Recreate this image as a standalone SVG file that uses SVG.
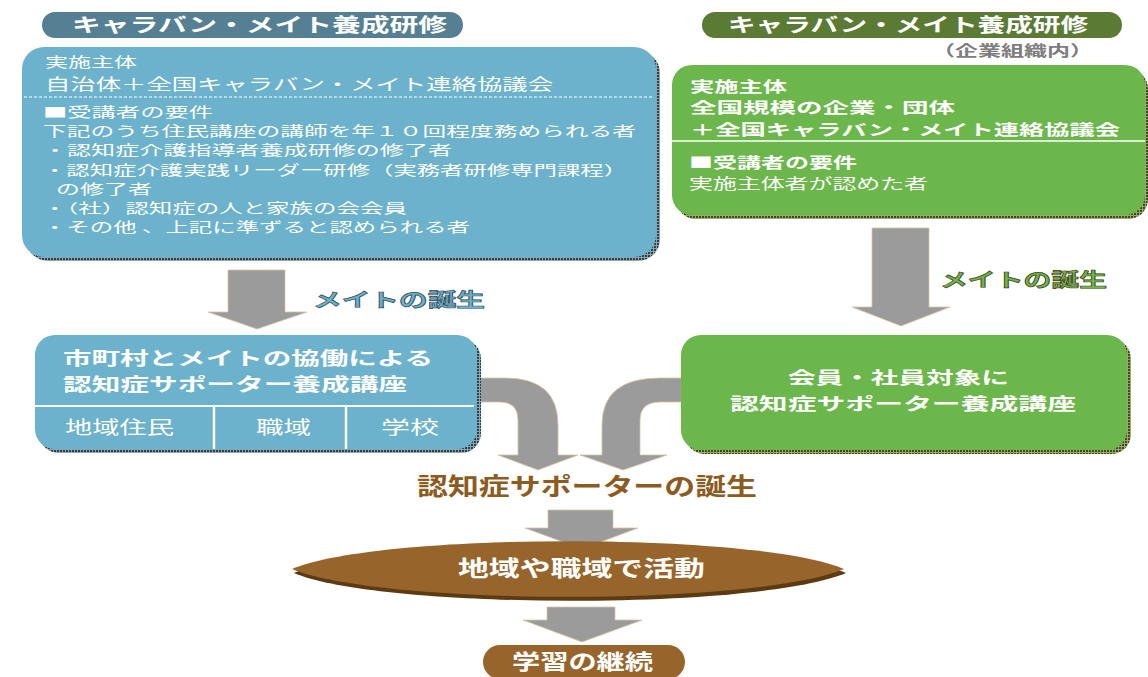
<svg xmlns="http://www.w3.org/2000/svg" width="1148" height="677" viewBox="0 0 1148 677">
<defs>
<style>
text{font-family:"Noto Sans CJK JP","Noto Sans CJK SC",sans-serif;}
.w{fill:#ffffff;}
.b{font-weight:700;}
.arrow{fill:#9b9b9b;stroke:#d6c3a6;stroke-width:0.8;}
.blue{fill:#6cb2cc;}
.green{fill:#6bb74b;}
.brown{fill:#97652b;}
</style>
<pattern id="shB" width="3" height="3" patternUnits="userSpaceOnUse"><rect width="3" height="3" fill="#8aa6b2"/><rect width="2" height="2" fill="#2f3f47"/></pattern>
<pattern id="shG" width="3" height="3" patternUnits="userSpaceOnUse"><rect width="3" height="3" fill="#8fae6a"/><rect width="2" height="2" fill="#4a4220"/></pattern>
</defs>
<rect width="1148" height="677" fill="#ffffff"/>

<g id="connectors">
  <path class="arrow" d="M228 270 H285 V312 H307 L257 329 L208 312 H228 Z"/>
  <path class="arrow" d="M872 228 H929 V307 H950 L901 326 L852 307 H872 Z"/>
  <path class="arrow" d="M470 378 L505 378 Q558 378 558 425 L558 455 L578 455 L538 470 L498 455 L518 455 L518 420 Q518 402 500 402 L470 402 Z"/>
  <path class="arrow" d="M690 378 L660 378 Q602 378 602 425 L602 455 L580 455 L623 470 L667 455 L640 455 L640 420 Q640 402 660 402 L690 402 Z"/>
  <path class="arrow" d="M548 510 H613 V528 H638 L582 549 L525 528 H548 Z"/>
  <path class="arrow" d="M547 607 H615 V620 H642 L582 642 L523 620 H547 Z"/>
  <text x="313" y="307" font-size="19" class="b" fill="#6cb2cc" stroke="#35505c" stroke-width="0.7" textLength="172" lengthAdjust="spacingAndGlyphs">メイトの誕生</text>
  <text x="940" y="287" font-size="19" class="b" fill="#6bb74b" stroke="#4a4220" stroke-width="0.7" textLength="167" lengthAdjust="spacingAndGlyphs">メイトの誕生</text>
</g>

<g id="title-left">
  <rect x="42" y="12" width="421" height="26" rx="13" fill="#557f92"/>
  <text x="72" y="32.2" font-size="19" class="w b" textLength="375" lengthAdjust="spacingAndGlyphs">キャラバン・メイト養成研修</text>
</g>

<g id="title-right">
  <rect x="702" y="12" width="420" height="26" rx="13" fill="#5b7a34"/>
  <text x="728" y="32.2" font-size="19" class="w b" textLength="360" lengthAdjust="spacingAndGlyphs">キャラバン・メイト養成研修</text>
  <text x="932" y="55.7" font-size="15" class="b" fill="#7d7d7d" textLength="161" lengthAdjust="spacingAndGlyphs">（企業組織内）</text>
</g>

<g id="box-left">
  <rect x="26" y="51" width="634" height="210" rx="22" fill="url(#shB)"/>
  <rect x="22" y="47" width="634" height="210" rx="22" class="blue"/>
  <line x1="24" y1="97" x2="654" y2="97" stroke="#ffffff" stroke-width="1.2" stroke-dasharray="3 2"/>
  <g class="w">
    <text x="45" y="66.8" font-size="14" textLength="92" lengthAdjust="spacingAndGlyphs">実施主体</text>
    <text x="45" y="89.6" font-size="16" textLength="508" lengthAdjust="spacingAndGlyphs">自治体＋全国キャラバン・メイト連絡協議会</text>
    <text x="43" y="117" font-size="13.2" textLength="170" lengthAdjust="spacingAndGlyphs">■受講者の要件</text>
    <text x="43" y="136.2" font-size="13.2" textLength="593" lengthAdjust="spacingAndGlyphs">下記のうち住民講座の講師を年１０回程度務められる者</text>
    <text x="43" y="155.4" font-size="13.2" textLength="409" lengthAdjust="spacingAndGlyphs">・認知症介護指導者養成研修の修了者</text>
    <text x="43" y="174.6" font-size="13.2" textLength="584" lengthAdjust="spacingAndGlyphs">・認知症介護実践リーダー研修（実務者研修専門課程）</text>
    <text x="56" y="193.8" font-size="13.2" textLength="96" lengthAdjust="spacingAndGlyphs">の修了者</text>
    <text x="43" y="213" font-size="13.2" textLength="364" lengthAdjust="spacingAndGlyphs">・（社）認知症の人と家族の会会員</text>
    <text x="43" y="232.2" font-size="13.2" textLength="427" lengthAdjust="spacingAndGlyphs">・その他 、上記に準ずると認められる者</text>
  </g>
</g>

<g id="box-right">
  <rect x="676" y="69" width="472" height="150" rx="20" fill="url(#shG)"/>
  <rect x="672" y="65" width="473" height="150" rx="20" class="green"/>
  <line x1="672" y1="141" x2="1145" y2="141" stroke="#ffffff" stroke-width="1.5"/>
  <g class="w">
    <text x="690" y="91.7" font-size="15" class="b" textLength="97" lengthAdjust="spacingAndGlyphs">実施主体</text>
    <text x="690" y="113.4" font-size="15" class="b" textLength="265" lengthAdjust="spacingAndGlyphs">全国規模の企業・団体</text>
    <text x="690" y="135.2" font-size="15" class="b" textLength="430" lengthAdjust="spacingAndGlyphs">＋全国キャラバン・メイト連絡協議会</text>
    <text x="689" y="167.5" font-size="14.5" class="b" textLength="168" lengthAdjust="spacingAndGlyphs">■受講者の要件</text>
    <text x="689" y="188.5" font-size="14.5" textLength="239" lengthAdjust="spacingAndGlyphs">実施主体者が認めた者</text>
  </g>
</g>

<g id="course-left">
  <rect x="39" y="339" width="442" height="114" rx="20" fill="url(#shB)"/>
  <rect x="35" y="335" width="442" height="114" rx="20" class="blue"/>
  <line x1="35" y1="406" x2="474" y2="406" stroke="#ffffff" stroke-width="2"/>
  <line x1="214" y1="406" x2="214" y2="449" stroke="#ffffff" stroke-width="2.5"/>
  <line x1="346" y1="406" x2="346" y2="449" stroke="#ffffff" stroke-width="2.5"/>
  <g class="w">
    <text x="63" y="364.8" font-size="18" class="b" textLength="370" lengthAdjust="spacingAndGlyphs">市町村とメイトの協働による</text>
    <text x="63" y="391" font-size="18" class="b" textLength="344" lengthAdjust="spacingAndGlyphs">認知症サポーター養成講座</text>
    <text x="65" y="434" font-size="18" textLength="109" lengthAdjust="spacingAndGlyphs">地域住民</text>
    <text x="256" y="434" font-size="18" textLength="55" lengthAdjust="spacingAndGlyphs">職域</text>
    <text x="381" y="434" font-size="18" textLength="58" lengthAdjust="spacingAndGlyphs">学校</text>
  </g>
</g>

<g id="course-right">
  <rect x="685" y="339" width="446" height="115" rx="20" fill="url(#shG)"/>
  <rect x="681" y="335" width="446" height="115" rx="20" class="green"/>
  <g class="w">
    <text x="788" y="384.2" font-size="17.5" class="b" textLength="221" lengthAdjust="spacingAndGlyphs">会員・社員対象に</text>
    <text x="730" y="409.7" font-size="17.5" class="b" textLength="346" lengthAdjust="spacingAndGlyphs">認知症サポーター養成講座</text>
  </g>
</g>

<g id="supporter-birth">
  <text x="417" y="495" font-size="24" class="b" fill="#8d5b22" textLength="340" lengthAdjust="spacingAndGlyphs">認知症サポーターの誕生</text>
</g>

<g id="activity">
  <path d="M294 573 C382 536 758 536 846 573 C758 610 382 610 294 573 Z" fill="#5c3a12"/>
  <path d="M292 569 C380 532 756 532 844 569 C756 606 380 606 292 569 Z" class="brown"/>
  <text x="458" y="576" font-size="22" class="w b" textLength="247" lengthAdjust="spacingAndGlyphs">地域や職域で活動</text>
</g>

<g id="learning">
  <rect x="483" y="645" width="202" height="34" rx="17" class="brown"/>
  <text x="512" y="669" font-size="21" class="w b" textLength="141" lengthAdjust="spacingAndGlyphs">学習の継続</text>
</g>
</svg>
